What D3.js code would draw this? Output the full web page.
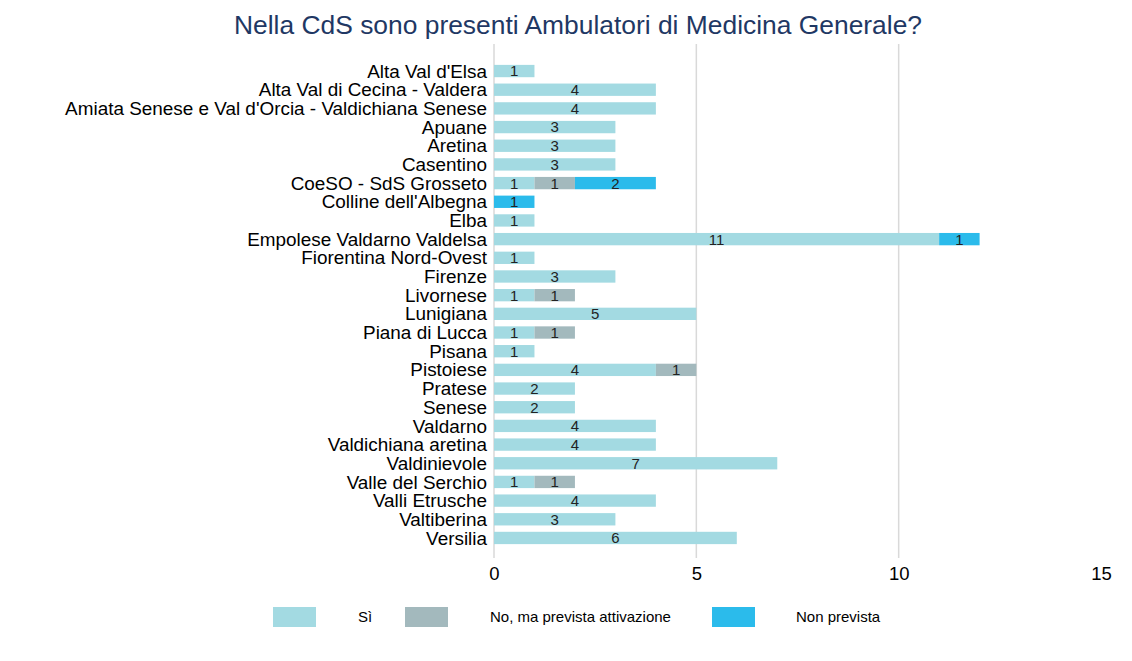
<!DOCTYPE html>
<html lang="it">
<head>
<meta charset="utf-8">
<title>Ambulatori di Medicina Generale</title>
<script src="https://cdn.jsdelivr.net/npm/d3@7"></script>
<style>
  body { margin: 0; background: #fff; }
  svg text { font-family: "Liberation Sans", Arial, sans-serif; }
  .title { font-size: 26.4px; fill: #1f3864; }
  .cat { font-size: 18.9px; fill: #000; }
  .tick text { font-size: 18.5px; fill: #000; }
  .val { font-size: 15px; fill: #222; }
  .leg { font-size: 15px; fill: #000; }
</style>
</head>
<body>
<svg id="chart" width="1132" height="661"></svg>
<script>
// zone (Società della Salute), in order top to bottom
const zones = [
  "Alta Val d'Elsa", "Alta Val di Cecina - Valdera",
  "Amiata Senese e Val d'Orcia - Valdichiana Senese", "Apuane", "Aretina",
  "Casentino", "CoeSO - SdS Grosseto", "Colline dell'Albegna", "Elba",
  "Empolese Valdarno Valdelsa", "Fiorentina Nord-Ovest", "Firenze",
  "Livornese", "Lunigiana", "Piana di Lucca", "Pisana", "Pistoiese",
  "Pratese", "Senese", "Valdarno", "Valdichiana aretina", "Valdinievole",
  "Valle del Serchio", "Valli Etrusche", "Valtiberina", "Versilia"
];
const si          = [1,4,4,3,3,3,1,0,1,11,1,3,1,5,1,1,4,2,2,4,4,7,1,4,3,6];
const noPrevista  = [0,0,0,0,0,0,1,0,0,0,0,0,1,0,1,0,1,0,0,0,0,0,1,0,0,0];
const nonPrevista = [0,0,0,0,0,0,2,1,0,1,0,0,0,0,0,0,0,0,0,0,0,0,0,0,0,0];

const seriesNames = ["Sì", "No, ma prevista attivazione", "Non prevista"];
const colors = ["#a3dae2", "#a3b9bd", "#2bbbeb"];
const xTicks = [0, 5, 10, 15];

const rows = zones.map((z, i) => ({zone: z, s0: si[i], s1: noPrevista[i], s2: nonPrevista[i]}));
const stack = d3.stack().keys(["s0", "s1", "s2"])(rows);

const svg = d3.select("#chart");

const x = d3.scaleLinear().domain([0, 15]).range([494, 1101]);
const y = d3.scaleBand().domain(zones).range([61.7, 547.3])
  .paddingInner(0.34).paddingOuter(0.17);

svg.append("text").attr("class", "title")
  .attr("x", 578).attr("y", 34).attr("text-anchor", "middle")
  .text("Nella CdS sono presenti Ambulatori di Medicina Generale?");

// gridlines (no line at the last tick)
svg.append("g").selectAll("line")
  .data(xTicks.slice(0, 3))
  .join("line")
  .attr("x1", d => x(d)).attr("x2", d => x(d))
  .attr("y1", 44).attr("y2", 558)
  .attr("stroke", "#d9d9d9").attr("stroke-width", 1.5);

// x axis labels
const xAxis = svg.append("g")
  .attr("transform", "translate(0,567)")
  .call(d3.axisBottom(x).tickValues(xTicks).tickSize(0).tickPadding(0));
xAxis.select(".domain").remove();
xAxis.selectAll("text").attr("dy", "0.71em");

// category labels
svg.append("g").selectAll("text")
  .data(zones)
  .join("text").attr("class", "cat")
  .attr("x", 487).attr("y", d => y(d) + y.bandwidth() / 2)
  .attr("dy", "0.35em").attr("text-anchor", "end")
  .text(d => d);

// bars
const layer = svg.append("g").selectAll("g")
  .data(stack)
  .join("g").attr("fill", (d, i) => colors[i]);

layer.selectAll("rect")
  .data(d => d.filter(p => p[1] > p[0]))
  .join("rect")
  .attr("x", d => x(d[0]))
  .attr("width", d => x(d[1]) - x(d[0]))
  .attr("y", d => y(d.data.zone))
  .attr("height", y.bandwidth());

layer.selectAll("text")
  .data(d => d.filter(p => p[1] > p[0]))
  .join("text").attr("class", "val")
  .attr("x", d => (x(d[0]) + x(d[1])) / 2)
  .attr("y", d => y(d.data.zone) + y.bandwidth() / 2)
  .attr("dy", "0.36em").attr("text-anchor", "middle")
  .text(d => d[1] - d[0]);

// legend
const legX = [273, 405, 712];
const leg = svg.append("g").selectAll("g")
  .data(seriesNames)
  .join("g")
  .attr("transform", (d, i) => `translate(${legX[i]},607)`);
leg.append("rect").attr("width", 43).attr("height", 20)
  .attr("fill", (d, i) => colors[i]);
leg.append("text").attr("class", "leg")
  .attr("x", (d, i) => [85, 85, 84][i]).attr("y", 10).attr("dy", "0.35em")
  .text(d => d);
</script>
</body>
</html>
